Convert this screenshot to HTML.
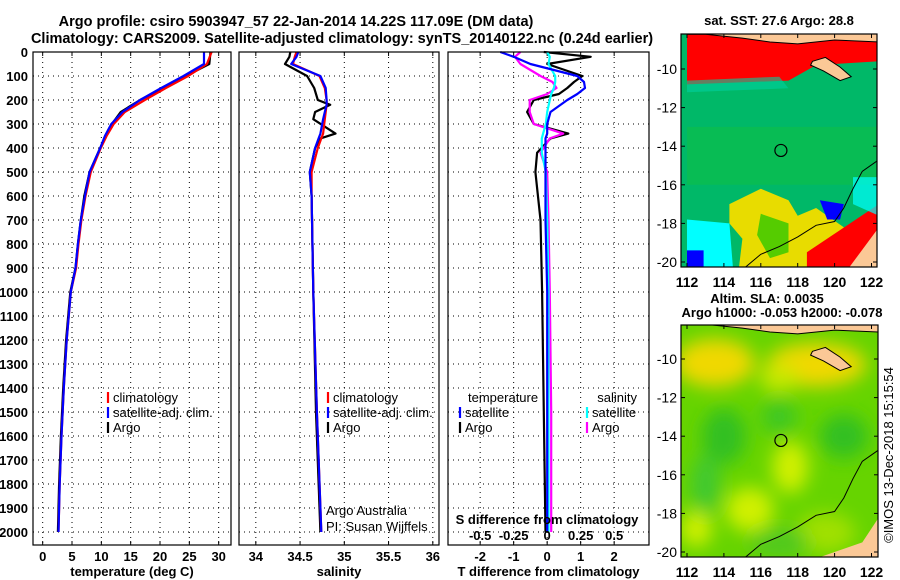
<!DOCTYPE html>
<html><head><meta charset="utf-8"><style>
html,body{margin:0;padding:0;background:#fff;}
svg{display:block;font-family:"Liberation Sans",sans-serif;}
.t{font-weight:bold;font-size:13px;}
.ttl{font-weight:bold;font-size:14.5px;}
</style></head><body>
<svg id="fig" width="900" height="580" viewBox="0 0 900 580" xmlns="http://www.w3.org/2000/svg">
<defs>
<filter id="blur" x="-20%" y="-20%" width="140%" height="140%"><feGaussianBlur stdDeviation="9"/></filter>
<clipPath id="cm1"><rect x="681" y="34" width="196" height="233"/></clipPath>
<clipPath id="cm2"><rect x="681" y="325" width="197" height="232"/></clipPath>
</defs>
<text class="ttl" x="296" y="26" text-anchor="middle">Argo profile: csiro 5903947_57 22-Jan-2014 14.22S 117.09E (DM data)</text>
<text class="ttl" x="342" y="43" text-anchor="middle">Climatology: CARS2009. Satellite-adjusted climatology: synTS_20140122.nc (0.24d earlier)</text>
<g id="panels"></g>
<g id="maps"></g>
<text class="t" x="0" y="0" transform="translate(893,455) rotate(-90)" text-anchor="middle" style="font-weight:normal;font-size:13px">©IMOS 13-Dec-2018 15:15:54</text>
</svg>
<script>
// ---- data ----
const tDepth = [0,50,100,150,200,250,300,350,400,500,600,700,800,900,1000,1200,1400,1600,1800,2000];
const tArgo  = [28.6,28.4,24.4,20.5,16.6,13.3,11.8,10.8,9.8,8.0,7.1,6.5,6.0,5.6,4.7,4.0,3.5,3.1,2.8,2.6];
const tClim  = [28.8,28.0,24.8,21.0,17.4,14.0,12.1,10.9,9.9,8.2,7.3,6.6,6.1,5.7,4.8,4.1,3.6,3.2,2.9,2.7];
const tSat   = [27.5,27.5,24.0,20.2,16.6,13.6,11.7,10.6,9.8,8.0,7.2,6.5,6.0,5.6,4.8,4.1,3.6,3.2,2.9,2.7];
const sDepth = [0,20,50,100,150,200,220,250,280,340,360,400,500,600,1000,1500,2000];
const sArgo  = [34.39,34.38,34.33,34.58,34.66,34.70,34.84,34.67,34.65,34.90,34.73,34.67,34.61,34.63,34.65,34.68,34.73];
const sClim  = [34.46,34.44,34.42,34.72,34.78,34.80,34.80,34.79,34.78,34.76,34.74,34.70,34.63,34.63,34.65,34.69,34.74];
const sSat   = [34.48,34.46,34.40,34.73,34.79,34.80,34.80,34.78,34.76,34.73,34.71,34.67,34.61,34.63,34.65,34.69,34.74];
const dDepth = [0,20,50,100,125,150,175,200,250,300,340,360,420,500,700,1000,1500,2000];
const dTArgo = [-0.1,1.3,0.0,1.05,0.8,0.6,0.35,-0.4,-0.6,-0.4,0.63,0.1,-0.3,-0.35,-0.2,-0.15,-0.1,-0.05];
const dTSat  = [-1.4,-1.0,-0.5,0.9,1.1,1.13,0.9,0.6,0.1,0.0,0.0,-0.05,-0.05,-0.05,-0.05,0.0,0.0,0.0];
const dSArgo = [-0.2,-0.24,-0.2,-0.05,0.04,0.07,0.0,-0.13,-0.13,-0.1,0.12,0.02,-0.05,0.0,0.01,0.02,0.03,0.03];
const dSSat  = [0.0,0.02,0.01,0.06,0.06,0.05,0.03,0.02,0.0,-0.01,-0.03,-0.04,-0.04,-0.01,0.0,0.01,0.01,0.01];
const depthTicks = [0,100,200,300,400,500,600,700,800,900,1000,1100,1200,1300,1400,1500,1600,1700,1800,1900,2000];
const tTicks = [0,5,10,15,20,25,30];
const sTicks = [34,34.5,35,35.5,36];
const sTickLabels = ["34","34.5","35","35.5","36"];
const dTicks = [-2,-1,0,1,2];
const dSTicks = [-0.5,-0.25,0,0.25,0.5];
const dSTickLabels = ["-0.5","-0.25","0","0.25","0.5"];

const NS="http://www.w3.org/2000/svg";
function mk(tag,attrs,parent){const e=document.createElementNS(NS,tag);for(const k in attrs)e.setAttribute(k,attrs[k]);parent.appendChild(e);return e;}
const yD = d => 52 + d*0.24;
const P = document.getElementById('panels');

function panel(name,x0,x1,xmin,xmax,ticks,labels,title,yLabels){
  const g=mk('g',{},P);
  
  
  const xs = v => x0 + (v-xmin)/(xmax-xmin)*(x1-x0);
  depthTicks.forEach(d=>{ if(d>0){ const y=yD(d); mk('line',{x1:x0,x2:x1,y1:y,y2:y,stroke:'#000','stroke-dasharray':'1 4','stroke-width':1},g);} });
  ticks.forEach(v=>{ const x=xs(v); mk('line',{x1:x,x2:x,y1:52,y2:545,stroke:'#000','stroke-dasharray':'1 4','stroke-width':1},g);
    mk('line',{x1:x,x2:x,y1:545,y2:541,stroke:'#000'},g); mk('line',{x1:x,x2:x,y1:52,y2:56,stroke:'#000'},g);});
  ticks.forEach((v,i)=>{ const t=mk('text',{x:xs(v),y:561,'text-anchor':'middle',class:'t'},g); t.textContent=labels[i];
    
     });
  const tt=mk('text',{x:(x0+x1)/2,y:576,'text-anchor':'middle',class:'t'},g); tt.textContent=title;
  
  
  if(yLabels){ depthTicks.forEach(d=>{ const t=mk('text',{x:28,y:yD(d)+5,'text-anchor':'end',class:'t'},g); t.textContent=d;
    
     }); }
  return {g,xs};
}
function line(g,xs,vals,depths,color,name,w){
  const pts=vals.map((v,i)=>xs(v).toFixed(1)+','+yD(depths[i]).toFixed(1)).join(' ');
  const p=mk('polyline',{points:pts,fill:'none',stroke:color,'stroke-width':w||2.2,'stroke-linejoin':'round'},g);
  
  
}
function frame(g,x0,x1){ mk('rect',{x:x0,y:52,width:x1-x0,height:493,fill:'none',stroke:'#000','stroke-width':1.2},g); }
function legend(g,x,y,color,label){
  mk('line',{x1:x,x2:x,y1:y-10,y2:y+1,stroke:color,'stroke-width':2.2},g);
  const t=mk('text',{x:x+5,y:y,class:'t',style:'font-weight:normal;font-size:13px'},g); t.textContent=label;
  
  
}

let p1=panel('temperature-panel',33,231,-1.65,32.1,tTicks,tTicks.map(String),'temperature (deg C)',true);
line(p1.g,p1.xs,tArgo,tDepth,'#000','argo-temperature-line');
line(p1.g,p1.xs,tClim,tDepth,'#f00','climatology-temperature-line');
line(p1.g,p1.xs,tSat,tDepth,'#00f','satellite-temperature-line');
frame(p1.g,33,231);
legend(p1.g,108,402,'#f00','climatology');legend(p1.g,108,417,'#00f','satellite-adj. clim.');legend(p1.g,108,432,'#000','Argo');

let p2=panel('salinity-panel',239,439,33.81,36.07,sTicks,sTickLabels,'salinity',false);
line(p2.g,p2.xs,sArgo,sDepth,'#000','argo-salinity-line');
line(p2.g,p2.xs,sClim,sDepth,'#f00','climatology-salinity-line');
line(p2.g,p2.xs,sSat,sDepth,'#00f','satellite-salinity-line');
frame(p2.g,239,439);
legend(p2.g,328,402,'#f00','climatology');legend(p2.g,328,417,'#00f','satellite-adj. clim.');legend(p2.g,328,432,'#000','Argo');
[['Argo Australia',555],['PI: Susan Wijffels',571]].forEach(a=>{const t=mk('text',{x:326,y:a[1]-40,style:'font-size:13px'},p2.g);t.textContent=a[0];
  
  });

let p3=panel('difference-panel',448,649,-2.96,3.04,dTicks,dTicks.map(String),'T difference from climatology',false);
const xsS = v => p3.xs(v*4);
line(p3.g,p3.xs,dTArgo,dDepth,'#000','argo-temperature-diff-line');
line(p3.g,xsS,dSArgo,dDepth,'#f0f','argo-salinity-diff-line');
line(p3.g,xsS,dSSat,dDepth,'#0ff','satellite-salinity-diff-line');
line(p3.g,p3.xs,dTSat,dDepth,'#00f','satellite-temperature-diff-line');
frame(p3.g,448,649);
{const t=mk('text',{x:468,y:402,style:'font-size:13px'},p3.g);t.textContent='temperature';
 
 
 const s=mk('text',{x:637,y:402,'text-anchor':'end',style:'font-size:13px'},p3.g);s.textContent='salinity';
 
 }
legend(p3.g,460,417,'#00f','satellite');legend(p3.g,460,432,'#000','Argo');
legend(p3.g,587,417,'#0ff','satellite');legend(p3.g,587,432,'#f0f','Argo');
{const t=mk('text',{x:547,y:524,'text-anchor':'middle',class:'t',style:'font-weight:bold;font-size:13px'},p3.g);t.textContent='S difference from climatology';
 
 
 dSTicks.forEach((v,i)=>{const l=mk('text',{x:xsS(v),y:540,'text-anchor':'middle',class:'t'},p3.g);l.textContent=dSTickLabels[i];
  
  });}

const M=document.getElementById('maps');
const lonX = lon => 687 + (lon-112)*18.45;
const latY1 = lat => 69 + (-10-lat)*19.3;
const latY2 = lat => 359 + (-10-lat)*19.3;
const lonTicks=[112,114,116,118,120,122];
const latTicks=[-10,-12,-14,-16,-18,-20];
function poly(g,pts,latY,attrs){const s=pts.map(p=>lonX(p[0]).toFixed(1)+','+latY(p[1]).toFixed(1)).join(' ');return mk('polygon',Object.assign({points:s},attrs),g);}
function coast(g,latY){
  const c=[[115,-20.4],[116,-19.6],[117,-19.2],[118,-18.7],[119,-18.1],[120,-17.9],[120.5,-17.2],[121,-16.2],[121.5,-15.3],[122.4,-14.7]];
  mk('polyline',{points:c.map(p=>lonX(p[0]).toFixed(1)+','+latY(p[1]).toFixed(1)).join(' '),fill:'none',stroke:'#000','stroke-width':1},g);
}
function mapAxes(g,x0,y0,w,h,latY){
  mk('rect',{x:x0,y:y0,width:w,height:h,fill:'none',stroke:'#000','stroke-width':1.2},g);
  lonTicks.forEach(l=>{const x=lonX(l);mk('line',{x1:x,x2:x,y1:y0+h,y2:y0+h-4,stroke:'#000'},g);mk('line',{x1:x,x2:x,y1:y0,y2:y0+4,stroke:'#000'},g);
    const t=mk('text',{x:x,y:y0+h+20,'text-anchor':'middle',class:'t',style:'font-weight:bold;font-size:14px'},g);t.textContent=l;
    
    });
  latTicks.forEach(l=>{const y=latY(l);mk('line',{x1:x0,x2:x0+4,y1:y,y2:y,stroke:'#000'},g);mk('line',{x1:x0+w,x2:x0+w-4,y1:y,y2:y,stroke:'#000'},g);
    const t=mk('text',{x:x0-4,y:y+5,'text-anchor':'end',class:'t',style:'font-weight:normal;font-size:14px'},g);t.textContent=l;
    
    });
  mk('circle',{cx:lonX(117.09),cy:latY(-14.22),r:6,fill:'none',stroke:'#000','stroke-width':1.2},g);
}
const g1=mk('g',{},M);


const c1=mk('g',{'clip-path':'url(#cm1)'},g1);
mk('rect',{x:681,y:34,width:196,height:233,fill:'#00b868'},c1);
poly(c1,[[112,-13],[122.4,-13],[122.4,-16],[112,-16]],latY1,{fill:'#10c040',opacity:0.5});
poly(c1,[[112,-8],[122.4,-8],[122.4,-9.6],[119,-9.8],[117.5,-10.6],[112,-10.8]],latY1,{fill:'#ff0000'});
poly(c1,[[112,-10.6],[117,-10.4],[117.5,-11],[112,-11.2]],latY1,{fill:'#00d0a0',opacity:0.6});
poly(c1,[[114.3,-17],[116,-16.2],[117.5,-16.8],[118,-17.6],[119,-17.2],[120.5,-18.2],[120.5,-20.4],[114.8,-20.4],[115,-18.8],[114.3,-18]],latY1,{fill:'#e8dc00'});
poly(c1,[[116,-17.5],[117.5,-18],[117.5,-19.5],[116.5,-19.8],[115.8,-18.6]],latY1,{fill:'#30c800',opacity:0.8});
poly(c1,[[118.5,-19.5],[122.4,-17],[122.4,-20.4],[118.5,-20.4]],latY1,{fill:'#ff0000'});
poly(c1,[[112,-17.8],[114.3,-18],[114.5,-20.4],[112,-20.4]],latY1,{fill:'#00ffff'});
poly(c1,[[112,-19.4],[112.9,-19.4],[112.9,-20.4],[112,-20.4]],latY1,{fill:'#0000ff'});
poly(c1,[[119.2,-16.8],[120.5,-17],[120.3,-17.8],[119.6,-17.8]],latY1,{fill:'#0000ff'});
poly(c1,[[121,-15.6],[122.4,-15.6],[122.4,-17.6],[121,-17]],latY1,{fill:'#00ffff',opacity:0.7});
poly(c1,[[118.8,-9.6],[119.5,-9.4],[120.3,-9.9],[120.9,-10.4],[120.3,-10.6],[119.4,-10.1],[118.7,-9.8]],latY1,{fill:'#fbc896',stroke:'#000','stroke-width':1});
poly(c1,[[112,-8],[122.4,-8],[122.4,-8.6],[120,-8.5],[118,-8.7],[116.5,-8.6],[115,-8.4],[113,-8.2],[112,-8.2]],latY1,{fill:'#fbc896',stroke:'#000','stroke-width':1});
poly(c1,[[120.7,-20.4],[122.4,-18.2],[122.4,-20.4]],latY1,{fill:'#fbc896'});
coast(c1,latY1);
mapAxes(g1,681,34,196,233,latY1);
{const t=mk('text',{x:779,y:25,'text-anchor':'middle',class:'t'},g1);t.textContent='sat. SST: 27.6 Argo: 28.8';
 
 }
const g2=mk('g',{},M);


const c2=mk('g',{'clip-path':'url(#cm2)'},g2);
mk('rect',{x:681,y:325,width:197,height:232,fill:'#66d400'},c2);
const bl=mk('g',{filter:'url(#blur)'},c2);
[[113.5,-10.2,40,24,'#f0d800'],[119,-10.3,50,22,'#f0d800'],[117,-11,20,14,'#c8e800'],[114,-14,22,28,'#30c020'],[117,-13,18,18,'#40c820'],[120.5,-14,24,22,'#30c020'],
 [117.6,-15.6,18,26,'#d0f000'],[115.4,-17.8,24,22,'#d0f000'],[112.5,-18.8,16,18,'#d0f000'],[119.5,-19,30,20,'#a0e000'],[113,-16.5,14,30,'#40c830'],[117,-19.5,30,14,'#50c820']]
 .forEach(b=>mk('ellipse',{cx:lonX(b[0]),cy:latY2(b[1]),rx:b[2],ry:b[3],fill:b[4]},bl));
poly(c2,[[118.8,-9.6],[119.5,-9.4],[120.3,-9.9],[120.9,-10.4],[120.3,-10.6],[119.4,-10.1],[118.7,-9.8]],latY2,{fill:'#fbc896',stroke:'#000','stroke-width':1});
poly(c2,[[112,-8],[122.4,-8],[122.4,-8.6],[120,-8.5],[118,-8.7],[116.5,-8.6],[115,-8.4],[113,-8.2],[112,-8.2]],latY2,{fill:'#fbc896',stroke:'#000','stroke-width':1});
poly(c2,[[118.8,-20.4],[121.5,-19.5],[122.4,-18.2],[122.4,-20.4]],latY2,{fill:'#fbc896'});
coast(c2,latY2);
mapAxes(g2,681,325,197,232,latY2);
{const t=mk('text',{x:767,y:303,'text-anchor':'middle',class:'t'},g2);t.textContent='Altim. SLA: 0.0035';
 
 
 const s=mk('text',{x:782,y:317,'text-anchor':'middle',class:'t'},g2);s.textContent='Argo h1000: -0.053 h2000: -0.078';
 
 }
</script>
</body></html>
